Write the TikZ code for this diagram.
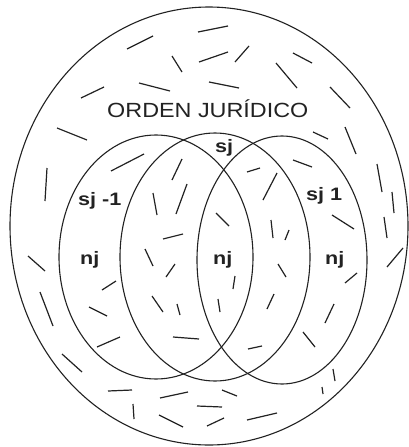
\documentclass[tikz,border=0pt]{standalone}
\usepackage{fontspec}
\setmainfont{Liberation Sans}
\definecolor{ink}{HTML}{222222}
\begin{document}
\begin{tikzpicture}[x=1pt,y=-1pt,
  ring/.style={draw=ink,line width=1.1pt},
  tick/.style={draw=ink,line width=1.2pt},
  title/.style={font=\fontsize{20.5}{22}\selectfont,text=ink,inner sep=0pt,anchor=base west},
  lab/.style={font=\bfseries\fontsize{18}{20}\selectfont,text=ink,inner sep=0pt,anchor=base west}]
\useasboundingbox[fill=white] (0,0) rectangle (408,447);
% outer region
\draw[ring] (209,226) ellipse [x radius=199, y radius=219];
% three overlapping systems
\draw[ring] (156,257) ellipse [x radius=97, y radius=122];
\draw[ring] (215,257) ellipse [x radius=95, y radius=124];
\draw[ring] (282,260) ellipse [x radius=85, y radius=124];
% texture strokes
\foreach \a/\b/\c/\d in {
198/32/228/26, 127/49/153/36, 172/56/182/72, 199/62/228/52, 235/62/249/46,
293/53/312/63, 276/63/297/88, 81/98/104/87, 139/83/170/91, 209/82/239/88,
330/87/350/108, 57/128/87/140, 313/132/328/139, 345/127/356/154, 47/168/45/201,
111/171/144/154, 172/180/182/159, 247/172/260/168, 293/160/312/167, 377/164/382/192,
392/192/394/213, 153/193/157/215, 176/214/187/184, 263/200/277/173, 216/213/229/226,
332/215/354/229, 384/217/387/238, 403/248/387/267, 345/283/357/273, 271/220/273/238,
285/240/289/230, 163/239/183/234, 28/256/45/271, 145/249/153/266, 166/277/175/264,
235/276/233/289, 278/264/286/277, 102/290/116/281, 40/292/53/326, 152/296/163/312,
177/304/180/315, 218/299/220/312, 267/309/274/294, 325/323/334/304, 89/307/107/316,
97/347/120/337, 62/354/82/372, 173/337/199/339, 248/349/262/346, 303/332/315/347,
333/369/335/381, 322/387/323/394, 108/391/132/390, 160/398/188/392, 222/390/237/396,
133/404/134/419, 159/415/183/427, 197/406/222/407, 207/426/224/418, 247/420/277/413}
  \draw[tick] (\a,\b) -- (\c,\d);
% labels
\node[title] (orden) at (107,117) {\scalebox{1.14}[1]{ORDEN JURÍDICO}};
\node[lab] (sjm) at (78,205) {\scalebox{1.2}[1]{sj -1}};
\node[lab] (sj) at (215,152) {\scalebox{1.2}[1]{sj}};
\node[lab] (sjp) at (306,200) {\scalebox{1.2}[1]{sj 1}};
\node[lab] (njl) at (80,264) {\scalebox{1.2}[1]{nj}};
\node[lab] (njm) at (213,264) {\scalebox{1.2}[1]{nj}};
\node[lab] (njr) at (325,264) {\scalebox{1.2}[1]{nj}};
\end{tikzpicture}
\end{document}
